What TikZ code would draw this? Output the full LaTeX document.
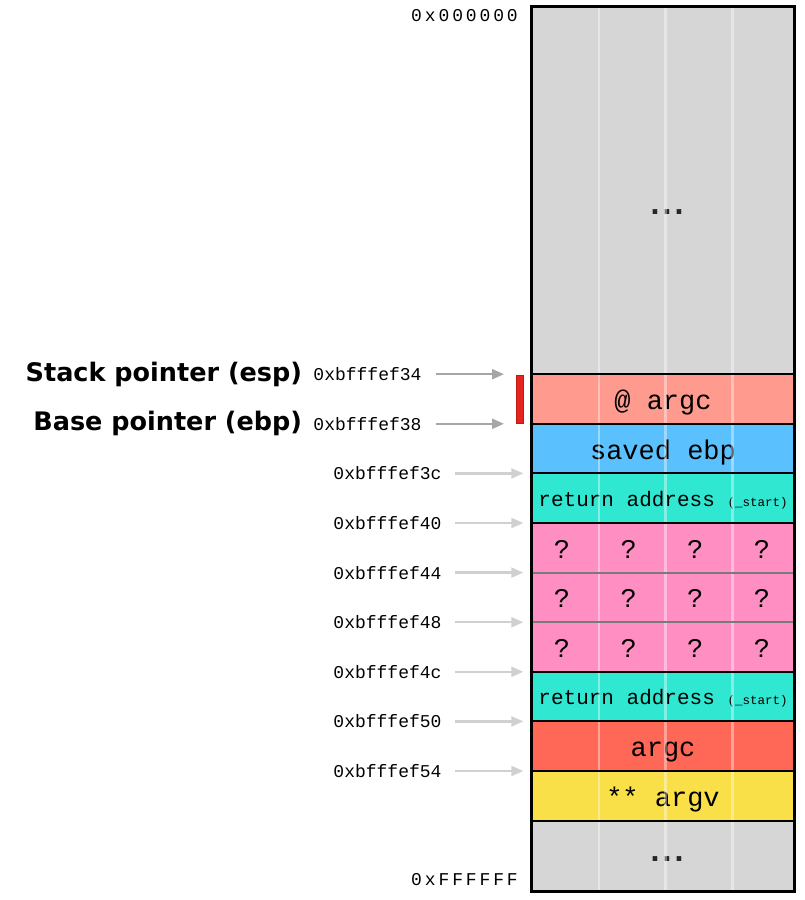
\documentclass[tikz,border=0pt]{standalone}
\usepackage{fontspec}
\setmonofont{Liberation Mono}
\newfontfamily\ptrfont{DejaVu Sans}
\newfontfamily\dotfont[LetterSpace=8]{DejaVu Sans}
\newfontfamily\edgefont[LetterSpace=16]{Liberation Mono}
\usetikzlibrary{arrows.meta, positioning}
\definecolor{memgray}{HTML}{D6D6D6}
\definecolor{atargccol}{HTML}{FF9A8F}
\definecolor{ebpcol}{HTML}{5AC1FE}
\definecolor{retcol}{HTML}{30E7D1}
\definecolor{qcol}{HTML}{FF8FC3}
\definecolor{argccol}{HTML}{FF6756}
\definecolor{argvcol}{HTML}{F9DF48}
\definecolor{framered}{HTML}{E8231D}
\definecolor{arrowgray}{HTML}{D0D0D0}
\definecolor{ptrgray}{HTML}{A6A6A6}
\definecolor{qsepgray}{HTML}{7A7A7A}

\begin{document}
\begin{tikzpicture}[x=1pt, y=-1pt,
  cell/.style={rectangle, inner sep=0pt, outer sep=0pt, minimum width=263pt,
    text height=35.3pt, text depth=14.3pt, font=\ttfamily\fontsize{27}{27}\selectfont},
  qmark/.style={inner sep=0pt, text height=35.3pt, text depth=14.3pt,
    font=\ttfamily\fontsize{27}{27}\selectfont},
  dots/.style={inner sep=0pt, text=black!85, font=\dotfont\bfseries\fontsize{26}{26}\selectfont},
  addr/.style={inner sep=0pt, font=\ttfamily\fontsize{18}{18}\selectfont},
  ptr/.style={inner sep=0pt, font=\ptrfont\bfseries\fontsize{25.5}{25.5}\selectfont},
  edge/.style={inner sep=0pt, anchor=base east, font=\edgefont\fontsize{18}{18}\selectfont},
  arr/.style={-{Triangle[length=12pt, width=10pt]}, line width=2.3pt, color=arrowgray},
  ptrarr/.style={arr, color=ptrgray},
  sep/.style={line width=2pt},
  colline/.style={white, opacity=0.4, line width=2.5pt}
]
  \useasboundingbox (0,0) rectangle (805,900);

  % memory column, top to bottom
  \node[cell, fill=memgray, text height=0pt, text depth=0pt, minimum height=367.7pt,
        anchor=south] (heap) at (663,374.2) {};
  \node[cell, fill=atargccol, below=0pt of heap] (atargc) {@ argc};
  \node[cell, fill=ebpcol, below=0pt of atargc] (savedebp) {saved ebp};
  \node[cell, fill=retcol, below=0pt of savedebp, text height=32.8pt, text depth=16.8pt,
        font=\ttfamily\fontsize{21}{21}\selectfont] (retone)
        {return address {\fontsize{12.5}{12.5}\selectfont(\_start)}};
  \node[cell, fill=qcol, below=0pt of retone] (qrow1) {};
  \node[cell, fill=qcol, below=0pt of qrow1] (qrow2) {};
  \node[cell, fill=qcol, below=0pt of qrow2] (qrow3) {};
  \node[cell, fill=retcol, below=0pt of qrow3, text height=32.8pt, text depth=16.8pt,
        font=\ttfamily\fontsize{21}{21}\selectfont] (retany)
        {return address {\fontsize{12.5}{12.5}\selectfont(\_start)}};
  \node[cell, fill=argccol, below=0pt of retany] (argc) {argc};
  \node[cell, fill=argvcol, below=0pt of argc] (argv) {** argv};
  \node[cell, fill=memgray, text height=0pt, text depth=0pt, minimum height=71pt,
        below=0pt of argv] (tail) {};

  % unknown words
  \foreach \r in {1,2,3}
    \foreach \c [count=\i] in {562,628.7,695.3,762}
      \node[qmark] (q\r\i) at (\c,0 |- qrow\r) {?};

  \node[dots] (headdots) at (667,212) {...};
  \node[dots] (taildots) at (667,859) {...};

  \foreach \x in {599,665.7,732.3}
    \draw[colline] (\x,0 |- heap.north) -- (\x,0 |- tail.south);

  \foreach \n in {heap, atargc, savedebp, retone, qrow3, retany, argc, argv}
    \draw[sep] (\n.south west) -- (\n.south east);
  \foreach \n in {qrow1, qrow2}
    \draw[sep, qsepgray] (\n.south west) -- (\n.south east);
  \draw[line width=3pt] (heap.north west) rectangle (tail.south east);

  % current frame marker
  \node[fill=framered, draw=framered!80!black, line width=0.8pt, inner sep=0pt,
        minimum width=7pt, minimum height=48pt] (frame) at (520,399.4) {};

  % esp / ebp
  \node[addr, left=109.8pt of atargc.north west] (aesp) {0xbfffef34};
  \node[addr, left=109.8pt of savedebp.north west] (aebp) {0xbfffef38};
  \coordinate[left=27.5pt of atargc.north west] (tesp);
  \coordinate[left=27.5pt of savedebp.north west] (tebp);
  \draw[ptrarr, shorten <=14pt] (aesp) -- (tesp);
  \draw[ptrarr, shorten <=14pt] (aebp) -- (tebp);
  \node[ptr, left=11pt of aesp] (esp) {Stack pointer (esp)};
  \node[ptr, left=11pt of aebp] (ebp) {Base pointer (ebp)};

  % other addresses
  \foreach \row/\addr in {retone/3c, qrow1/40, qrow2/44, qrow3/48, retany/4c, argc/50, argv/54} {
    \node[addr, left=89.8pt of \row.north west] (a\addr) {0xbfffef\addr};
    \coordinate[left=8.2pt of \row.north west] (t\addr);
    \draw[arr, shorten <=13.5pt] (a\addr) -- (t\addr);
  }

  \node[edge] (lowaddr) at (518,21.7) {0x000000};
  \node[edge] (highaddr) at (518,885.7) {0xFFFFFF};
\end{tikzpicture}
\end{document}
